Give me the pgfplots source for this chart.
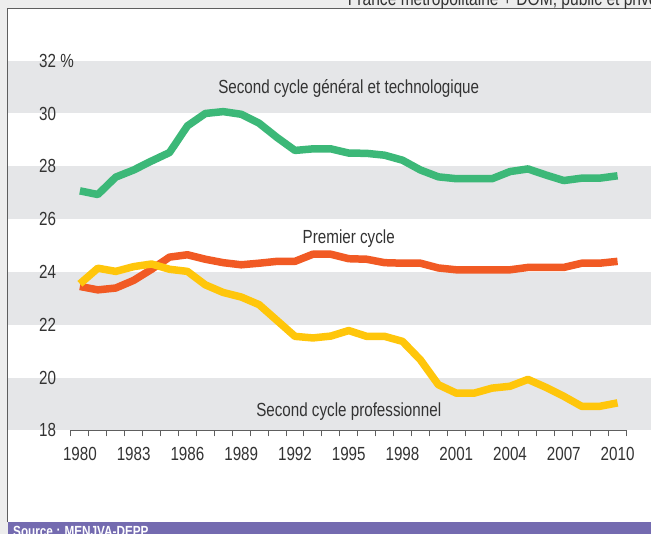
\documentclass[border=0pt]{standalone}
\usepackage{fontspec}
\setmainfont{Liberation Sans}[FakeStretch=0.8]
\usepackage{pgfplots}
\pgfplotsset{compat=1.18}
\definecolor{bandgray}{HTML}{E5E6E8}
\definecolor{framegray}{HTML}{EDEDED}
\definecolor{linegray}{HTML}{5E5E5E}
\definecolor{txt}{HTML}{333333}
\definecolor{cgreen}{HTML}{3CB878}
\definecolor{corange}{HTML}{F15A24}
\definecolor{cyellow}{HTML}{FFC60B}
\definecolor{cpurple}{HTML}{746BB0}

\pgfplotstableread{
year gen pre pro
1980 27.07 23.45 23.55
1981 26.93 23.32 24.14
1982 27.59 23.39 24.02
1983 27.86 23.68 24.20
1984 28.20 24.10 24.30
1985 28.52 24.56 24.10
1986 29.53 24.65 24.02
1987 30.00 24.48 23.51
1988 30.07 24.35 23.22
1989 29.97 24.27 23.05
1990 29.63 24.33 22.76
1991 29.09 24.40 22.16
1992 28.60 24.40 21.56
1993 28.66 24.67 21.50
1994 28.66 24.67 21.57
1995 28.50 24.50 21.78
1996 28.49 24.48 21.56
1997 28.42 24.35 21.56
1998 28.23 24.33 21.37
1999 27.86 24.33 20.67
2000 27.60 24.15 19.73
2001 27.53 24.08 19.41
2002 27.53 24.08 19.41
2003 27.53 24.08 19.60
2004 27.80 24.08 19.67
2005 27.90 24.17 19.93
2006 27.67 24.17 19.63
2007 27.46 24.17 19.29
2008 27.55 24.33 18.91
2009 27.55 24.33 18.91
2010 27.64 24.40 19.04
}\datatable

\begin{document}
\begin{tikzpicture}
\fill[framegray] (0bp,0bp) rectangle (651bp,534bp);
\fill[white] (8bp,11.3bp) rectangle (651bp,525bp);
\fill[cpurple] (8bp,0bp) rectangle (651bp,11.3bp);
\draw[linegray, line width=1bp] (8bp,11.3bp) -- (8bp,525bp) -- (651bp,525bp);
% horizontal bands (18-20, 22-24, 26-28, 30-32), same scale as the axis below
\fill[bandgray] (8.5bp,103.3bp) rectangle (651bp,156.157bp);
\fill[bandgray] (8.5bp,209.014bp) rectangle (651bp,261.871bp);
\fill[bandgray] (8.5bp,314.729bp) rectangle (651bp,367.586bp);
\fill[bandgray] (8.5bp,420.443bp) rectangle (651bp,473.3bp);
\node[overlay, anchor=base west, inner sep=0, text=white, font=\fontsize{14.7bp}{16bp}\selectfont\bfseries] at (13bp,-3.3bp) {Source : MENJVA-DEPP};
\node[overlay, anchor=base west, inner sep=0, text=txt, font=\fontsize{19.5bp}{22bp}\selectfont] at (348bp,528.8bp) {France métropolitaine + DOM, public et privé};
\coordinate (O) at (71bp,103.3bp);
\begin{axis}[
  at={(O)}, anchor=south west, scale only axis,
  width=556bp, height=370bp,
  xmin=1979.5, xmax=2010.5, ymin=18, ymax=32,
  clip=false,
  axis x line*=bottom, axis y line*=left,
  x axis line style={linegray, line width=1bp},
  y axis line style={draw=none},
  xtick={1980,1983,...,2010},
  xticklabels={1980,1983,1986,1989,1992,1995,1998,2001,2004,2007,2010},
  minor xtick={1979.5,1980.5,...,2010.5},
  tick align=outside,
  major tick length=0pt, minor tick length=6bp,
  minor tick style={linegray, line width=1bp},
  ytick={18,20,...,32},
  yticklabels={18,20,22,24,26,28,30,{32 \%}},
  ytick style={draw=none},
  xticklabel style={anchor=center, inner sep=0pt, yshift=-24bp},
  yticklabel style={anchor=west, inner sep=0pt, xshift=-32bp},
  tick label style={font=\fontsize{19bp}{22bp}\selectfont, text=txt},
  /pgf/number format/assume math mode=true,
  every axis plot/.append style={line width=7.5bp, line join=round, line cap=butt, mark=none},
]
\addplot[cgreen] table[x=year, y=gen] {\datatable};
\addplot[corange] table[x=year, y=pre] {\datatable};
\addplot[cyellow] table[x=year, y=pro] {\datatable};
\node[anchor=base, inner sep=0, text=txt, font=\fontsize{19bp}{22bp}\selectfont] at (axis cs:1995,30.77) {Second cycle général et technologique};
\node[anchor=base, inner sep=0, text=txt, font=\fontsize{19bp}{22bp}\selectfont] at (axis cs:1995,25.08) {Premier cycle};
\node[anchor=base, inner sep=0, text=txt, font=\fontsize{19bp}{22bp}\selectfont] at (axis cs:1995,18.53) {Second cycle professionnel};
\end{axis}
\end{tikzpicture}
\end{document}
